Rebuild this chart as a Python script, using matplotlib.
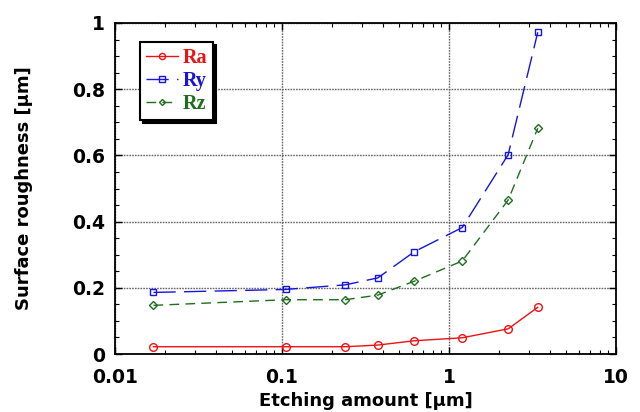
import matplotlib
matplotlib.use("Agg")
import matplotlib.pyplot as plt
from matplotlib.ticker import FixedLocator, FixedFormatter, MultipleLocator, LogLocator, NullFormatter

etching = [0.017, 0.105, 0.24, 0.375, 0.62, 1.2, 2.26, 3.4]
ra = [0.022, 0.022, 0.022, 0.027, 0.040, 0.049, 0.076, 0.141]
ry = [0.186, 0.195, 0.209, 0.230, 0.309, 0.382, 0.602, 0.972]
rz = [0.147, 0.164, 0.164, 0.178, 0.220, 0.281, 0.465, 0.682]

xticks = [0.01, 0.1, 1, 10]
xticklabels = ["0.01", "0.1", "1", "10"]
yticks = [0, 0.2, 0.4, 0.6, 0.8, 1.0]
yticklabels = ["0", "0.2", "0.4", "0.6", "0.8", "1"]

c_ra = "#ee1111"
c_ry = "#1515dd"
c_rz = "#1e6e1e"

fig = plt.figure(figsize=(6.4, 4.12), dpi=100)
ax = fig.add_axes([115/640, 1-354/412, (616-115)/640, (354-23)/412])

ax.plot(etching, ra, color=c_ra, lw=1.0, ls="-", marker="o", ms=5.5,
        mfc="none", mec=c_ra, mew=1.0, label="Ra")
ax.plot(etching, ry, color=c_ry, lw=1.0, ls=(0, (16, 6)), marker="s", ms=5,
        mfc="none", mec=c_ry, mew=1.0, label="Ry")
ax.plot(etching, rz, color=c_rz, lw=1.0, ls=(0, (7, 4.5)), marker="D", ms=3.8,
        mfc="none", mec=c_rz, mew=1.0, label="Rz")

ax.set_xscale("log")
ax.set_xlim(0.01, 10)
ax.set_ylim(0, 1)
ax.xaxis.set_major_locator(FixedLocator(xticks))
ax.xaxis.set_major_formatter(FixedFormatter(xticklabels))
ax.xaxis.set_minor_locator(LogLocator(base=10, subs=range(2, 10)))
ax.xaxis.set_minor_formatter(NullFormatter())
ax.yaxis.set_major_locator(FixedLocator(yticks))
ax.yaxis.set_major_formatter(FixedFormatter(yticklabels))
ax.yaxis.set_minor_locator(MultipleLocator(0.05))

ax.tick_params(which="both", direction="in", top=True, right=True)
ax.tick_params(which="major", length=5, width=1, labelsize=13.5)
ax.tick_params(axis="x", which="major", pad=10)
ax.tick_params(axis="y", which="major", pad=7)
ax.tick_params(which="minor", length=3, width=0.8)
for lab in ax.get_xticklabels() + ax.get_yticklabels():
    lab.set_fontweight("bold")

ax.grid(True, which="major", color="#666666", ls=(0, (1.2, 0.8)), lw=1.0)
for s in ax.spines.values():
    s.set_linewidth(1.3)

ax.set_xlabel("Etching amount [\u00b5m]", fontsize=13, fontweight="bold", labelpad=4)
ax.set_ylabel("Surface roughness [\u00b5m]", fontsize=13, fontweight="bold", labelpad=28)

leg = ax.legend(loc="upper left", bbox_to_anchor=(0.05, 0.943), borderaxespad=0,
                fancybox=False, shadow={"color": "black", "alpha": 1.0},
                prop={"family": "Liberation Serif", "weight": "bold", "size": 14.5},
                handlelength=1.6, handletextpad=0.2, labelspacing=0.15,
                borderpad=0.3, framealpha=1, markerscale=0.8)
leg.get_frame().set_edgecolor("black")
leg.get_frame().set_linewidth(1.5)
for t, c in zip(leg.get_texts(), [c_ra, c_ry, c_rz]):
    t.set_color(c)

fig.savefig("out.png", dpi=100)
